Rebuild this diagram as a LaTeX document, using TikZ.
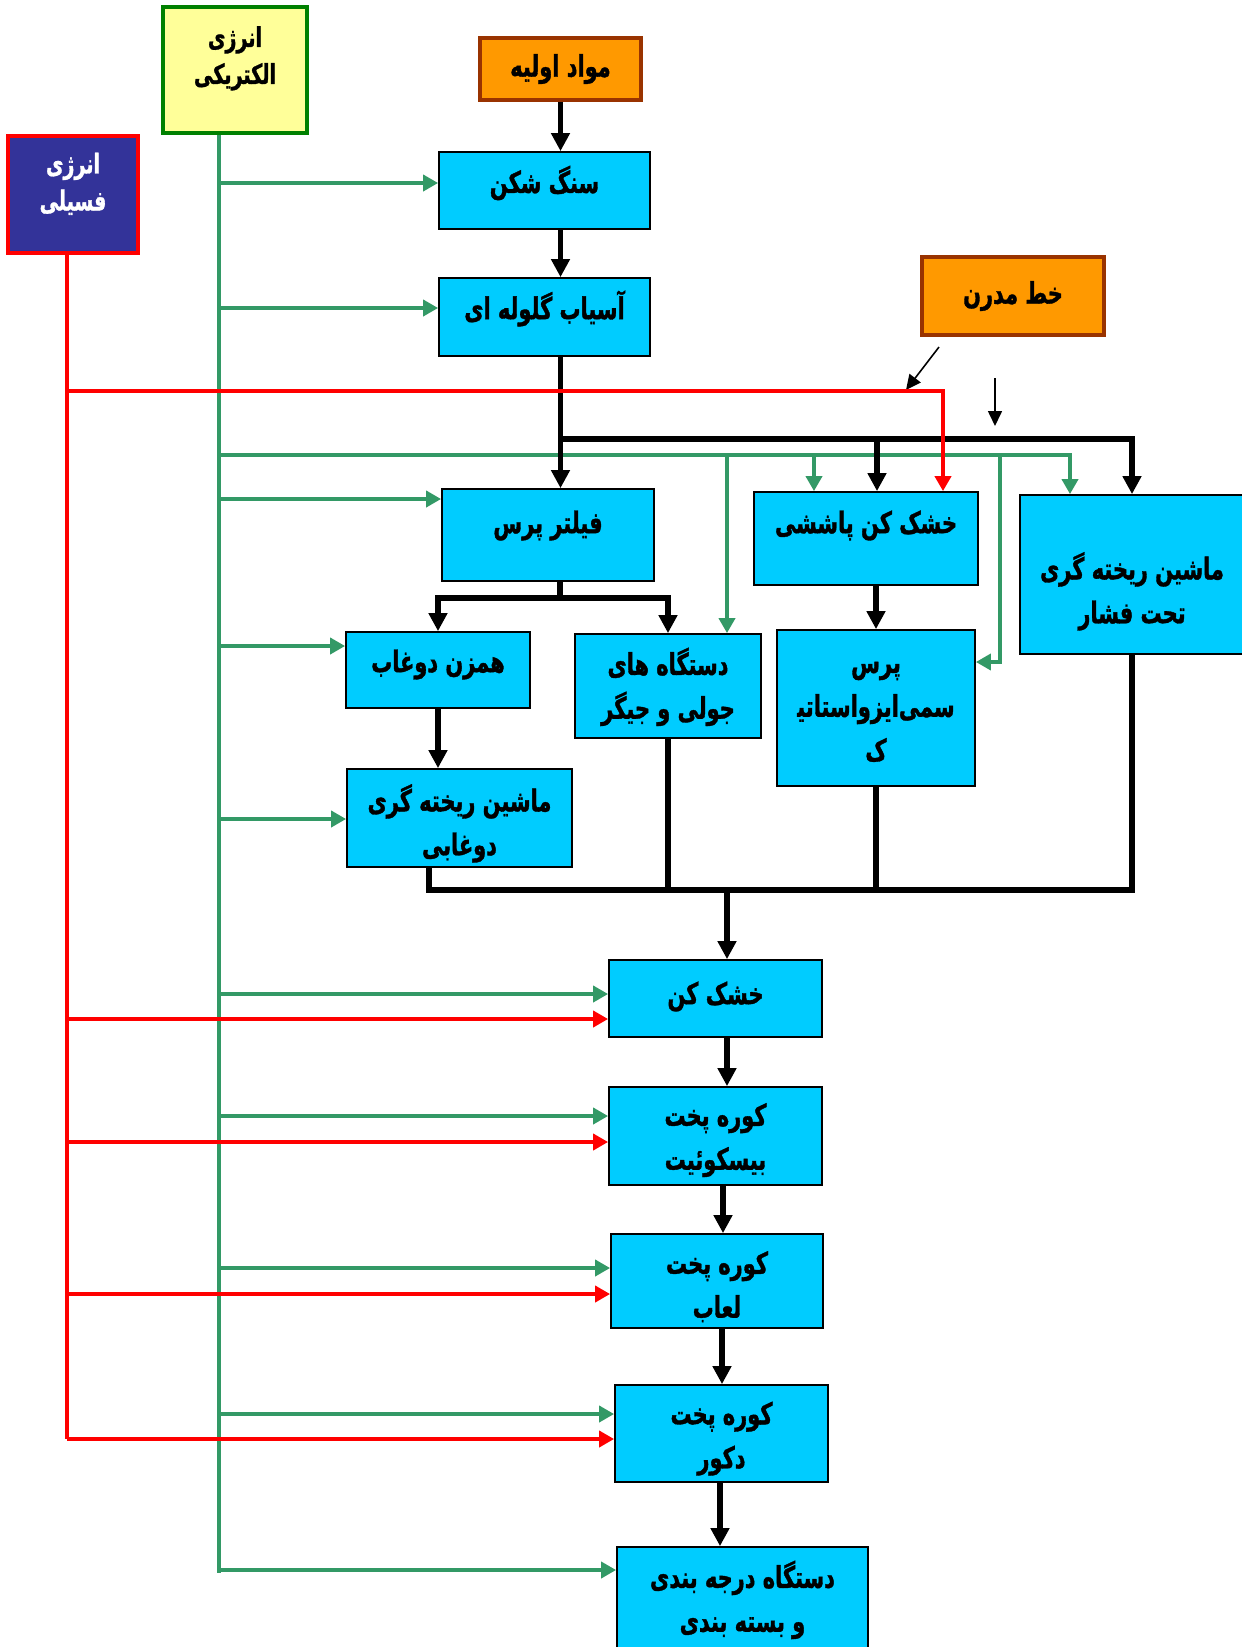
\documentclass[tikz,border=0pt]{standalone}
\usepackage{fontspec}
\newfontfamily\farsi[Script=Arabic, FakeStretch=0.7, BoldFeatures={FakeBold=1.2}]{DejaVu Sans}
\TeXXeTstate=1
\usetikzlibrary{arrows.meta}
\definecolor{procblue}{HTML}{00CCFF}
\definecolor{egreen}{HTML}{339966}
\definecolor{fred}{HTML}{FF0000}
\definecolor{elecfill}{HTML}{FFFF99}
\definecolor{elecdraw}{HTML}{008000}
\definecolor{fossfill}{HTML}{333399}
\definecolor{supfill}{HTML}{FF9900}
\definecolor{supdraw}{HTML}{993300}
\newcommand\fa[1]{\beginR #1\endR}% one rtl run
\newcommand\up[2]{\raisebox{#1}[\height][\depth]{#2}}% shift text inside its box
\newcommand\rows[1]{\begin{tabular}{@{}c@{}}#1\end{tabular}}
\tikzset{
  box/.style = {rectangle, inner sep=1pt,
    font={\farsi\bfseries\fontsize{17}{25}\selectfont}},
  proc/.style = {box, draw=black, line width=1pt, fill=procblue},% process step
  supply/.style = {box, draw=supdraw, line width=2pt, fill=supfill},% orange input
  elecbox/.style = {box, draw=elecdraw, line width=2pt, fill=elecfill,
    font={\farsi\bfseries\fontsize{15.5}{21}\selectfont}},
  fossbox/.style = {box, draw=fred, line width=2.5pt, fill=fossfill, text=white,
    font={\farsi\bfseries\fontsize{15.5}{21}\selectfont}},
  line/.style = {line width=3pt},
  flow/.style = {line, -{Triangle[length=3.6mm,width=3.6mm]}},
  eline/.style = {draw=egreen, line width=2.1pt, >={Triangle[length=3mm,width=3.2mm]}},
  fline/.style = {draw=fred, line width=2.3pt, >={Triangle[length=3mm,width=3.2mm]}},
  hint/.style = {line width=0.9pt, -{Triangle[length=3mm,width=2.8mm]}}
}
\begin{document}
\begin{tikzpicture}[x=0.2mm, y=-0.2mm]
\useasboundingbox (0,0) rectangle (1242,1647);

% energy sources and inputs
\node[elecbox, minimum width=28.8mm, minimum height=25.2mm] (elec) at (235,70)
  {\up{2.4mm}{\rows{\fa{انرژی}\\\fa{الکتریکی}}}};
\node[fossbox, minimum width=26mm, minimum height=23.4mm] (foss) at (73,194.5)
  {\up{2mm}{\rows{\fa{انرژی}\\\fa{فسیلی}}}};
\node[supply, minimum width=32.2mm, minimum height=12.4mm] (raw) at (560.5,69) {\fa{مواد اولیه}};
\node[supply, minimum width=36.4mm, minimum height=15.6mm] (modern) at (1013,296) {\fa{خط مدرن}};

% process steps
\node[proc, minimum width=42.2mm, minimum height=15.4mm] (crush) at (544.5,190.5) {\up{1.5mm}{\fa{سنگ شکن}}};
\node[proc, minimum width=42.2mm, minimum height=15.6mm] (mill) at (544.5,317) {\up{1.7mm}{\fa{آسیاب گلوله ای}}};
\node[proc, minimum width=42.4mm, minimum height=18.4mm] (filter) at (548,535) {\up{1.9mm}{\fa{فیلتر پرس}}};
\node[proc, minimum width=44.8mm, minimum height=18.6mm] (spray) at (866,538.5) {\up{2.6mm}{\fa{خشک کن پاششی}}};
\node[proc, minimum width=44.8mm, minimum height=31.8mm] (diecast) at (1132,574.5)
  {\up{-3.6mm}{\rows{\fa{ماشین ریخته گری}\\\fa{تحت فشار}}}};
\node[proc, minimum width=36.8mm, minimum height=15.2mm] (mixer) at (438,670) {\up{1.1mm}{\fa{همزن دوغاب}}};
\node[proc, minimum width=37.2mm, minimum height=20.8mm] (jolly) at (668,686)
  {\up{-0.4mm}{\rows{\fa{دستگاه های}\\\fa{جولی و جیگر}}}};
\node[proc, minimum width=39.6mm, minimum height=31.2mm] (press) at (876,708)
  {\rows{\fa{پرس}\\\fa{سمی‌ایزواستاتی‍}\\\fa{ک}}};
\node[proc, minimum width=45mm, minimum height=19.6mm] (slipcast) at (459.5,818)
  {\up{-1.3mm}{\rows{\fa{ماشین ریخته گری}\\\fa{دوغابی}}}};
\node[proc, minimum width=42.6mm, minimum height=15.4mm] (dryer) at (715.5,998.5) {\up{0.4mm}{\fa{خشک کن}}};
\node[proc, minimum width=42.6mm, minimum height=19.6mm] (biscuit) at (715.5,1136)
  {\up{-0.6mm}{\rows{\fa{کوره پخت}\\\fa{بیسکوئیت}}}};
\node[proc, minimum width=42.4mm, minimum height=18.8mm] (glaze) at (717,1281)
  {\up{-1.2mm}{\rows{\fa{کوره پخت}\\\fa{لعاب}}}};
\node[proc, minimum width=42.6mm, minimum height=19.4mm] (decor) at (721.5,1433.5)
  {\up{-0.8mm}{\rows{\fa{کوره پخت}\\\fa{دکور}}}};
\node[proc, minimum width=50.2mm, minimum height=24mm] (pack) at (742.5,1607)
  {\up{1.2mm}{\rows{\fa{دستگاه درجه بندی}\\\fa{و بسته بندی}}}};

% electricity
\coordinate (gbot) at (219,1573);
\coordinate (gbus) at (219,455);
\draw[eline] (elec.south -| gbot) -- (gbot);
\foreach \b/\y in {crush/183, mill/308, filter/499, mixer/646, slipcast/819,
    dryer/994, biscuit/1116, glaze/1268, decor/1414, pack/1570}
  \draw[eline,->] (gbot |- 0,\y) -- (\b.west |- 0,\y);
\draw[eline,->] (gbus) -| (diecast.north -| 1070,0);
\draw[eline,->] (gbus -| 814,0) -- (spray.north -| 814,0);
\draw[eline,->] (gbus -| 727,0) -- (jolly.north -| 727,0);
\draw[eline,->] (gbus -| 1000,0) |- (press.east |- 0,662);

% material flow
\coordinate (bus) at (560,439);
\coordinate (fsplit) at (560,598);
\coordinate (cbus) at (727,890);
\draw[flow] (raw) -- (raw |- crush.north);
\draw[flow] (crush.south -| raw) -- (mill.north -| raw);
\draw[flow] (mill.south -| raw) -- (filter.north -| raw);
\draw[flow] (bus) -| (diecast.north);
\draw[flow] (bus -| 877,0) -- (spray.north -| 877,0);
\draw[line] (filter.south -| fsplit) -- (fsplit);
\draw[flow] (fsplit) -| (mixer.north);
\draw[flow] (fsplit) -| (jolly.north);
\draw[flow] (mixer) -- (mixer |- slipcast.north);
\draw[flow] (press.north |- spray.south) -- (press.north);
\draw[line] (slipcast.south -| 429,0) |- (diecast.south |- cbus) -- (diecast.south);
\draw[line] (jolly.south) -- (jolly.south |- cbus);
\draw[line] (press.south) -- (press.south |- cbus);
\draw[flow] (cbus) -- (dryer.north -| cbus);
\foreach \a/\b/\x in {dryer/biscuit/727, biscuit/glaze/723, glaze/decor/722, decor/pack/720}
  \draw[flow] (\a.south -| \x,0) -- (\b.north -| \x,0);

% modern line hints
\coordinate (m1) at (939,347);
\coordinate (m2) at (906,390);
\coordinate (m3) at (995,378);
\coordinate (m4) at (995,426);
\draw[hint] (m1) -- (m2);
\draw[hint] (m3) -- (m4);

% fossil fuel
\coordinate (rbot) at (67,1439);
\draw[fline] (foss.south -| rbot) -- (rbot);
\draw[fline,->] (rbot |- 0,391) -| (spray.north -| 943,0);
\foreach \b/\y in {dryer/1019, biscuit/1142, glaze/1294, decor/1439}
  \draw[fline,->] (rbot |- 0,\y) -- (\b.west |- 0,\y);
\end{tikzpicture}
\end{document}
